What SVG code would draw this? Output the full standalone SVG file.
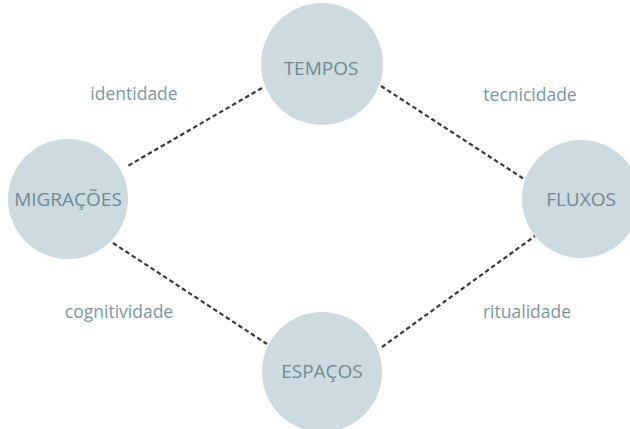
<svg xmlns="http://www.w3.org/2000/svg" width="630" height="429" viewBox="0 0 630 429">
<style>
.node{fill:#cddadf}
.nl{font-family:"Open Sans","Liberation Sans",sans-serif;font-size:19px;fill:#6f8a94;text-anchor:middle}
.el{font-family:"Open Sans","Liberation Sans",sans-serif;font-size:17.5px;fill:#7d979f;text-anchor:middle}
.c{stroke:#3a3a3a;stroke-width:2.2;stroke-dasharray:4.5 3;fill:none}
</style>
<rect width="630" height="429" fill="#ffffff"/>
<g id="connectors">
<line class="c" x1="262" y1="88" x2="126" y2="167"/>
<line class="c" x1="381" y1="86" x2="524" y2="179"/>
<line class="c" x1="113" y1="243" x2="267" y2="344"/>
<line class="c" x1="382" y1="347" x2="535" y2="236"/>
</g>
<g id="edge-labels">
<text class="el" x="134" y="100">identidade</text>
<text class="el" x="530" y="101">tecnicidade</text>
<text class="el" x="119" y="318">cognitividade</text>
<text class="el" x="527" y="318">ritualidade</text>
</g>
<g id="tempos">
<circle class="node" cx="322" cy="64" r="61"/>
<text class="nl" x="321" y="75">TEMPOS</text>
</g>
<g id="migracoes">
<circle class="node" cx="68" cy="199" r="60"/>
<text class="nl" x="68" y="206">MIGRAÇÕES</text>
</g>
<g id="fluxos">
<circle class="node" cx="581" cy="199" r="59"/>
<text class="nl" x="581" y="206">FLUXOS</text>
</g>
<g id="espacos">
<circle class="node" cx="322" cy="372" r="60"/>
<text class="nl" x="322" y="378">ESPAÇOS</text>
</g>
</svg>
